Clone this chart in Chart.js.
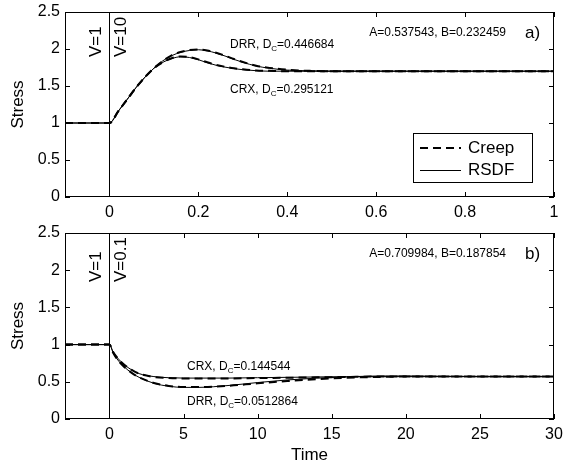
<!DOCTYPE html>
<html>
<head>
<meta charset="utf-8">
<script src="https://cdn.jsdelivr.net/npm/chart.js@4.4.0/dist/chart.umd.min.js"></script>
<style>
  body { margin: 0; background: #fff; }
  #wrap { position: relative; width: 576px; height: 474px; }
  canvas { position: absolute; left: 0; }
</style>
</head>
<body>
<div id="wrap">
  <canvas id="chartA" width="576" height="225" style="top:0"></canvas>
  <canvas id="chartB" width="576" height="249" style="top:225px"></canvas>
</div>
<script>
// panel a) : V 1 -> 10
const timeA = [-0.1, 0, 0.02, 0.04, 0.06, 0.08, 0.1, 0.12, 0.14, 0.16, 0.18, 0.2, 0.22, 0.24, 0.26, 0.28, 0.3, 0.33, 0.36, 0.4, 0.45, 0.5, 0.6, 0.8, 1.0]
const drrRsdfA = [1, 1, 1.16, 1.32, 1.48, 1.62, 1.74, 1.84, 1.91, 1.955, 1.98, 1.99, 1.975, 1.945, 1.905, 1.86, 1.82, 1.77, 1.74, 1.715, 1.705, 1.70, 1.70, 1.70, 1.70]
const drrCreepA = [1, 1, 1.16, 1.32, 1.48, 1.62, 1.74, 1.84, 1.915, 1.96, 1.985, 1.995, 1.98, 1.95, 1.91, 1.865, 1.825, 1.775, 1.745, 1.72, 1.705, 1.70, 1.70, 1.70, 1.70]
const crxRsdfA = [1, 1, 1.16, 1.32, 1.48, 1.62, 1.74, 1.82, 1.87, 1.895, 1.885, 1.855, 1.815, 1.78, 1.755, 1.735, 1.72, 1.707, 1.70, 1.70, 1.70, 1.70, 1.70, 1.70, 1.70]
const crxCreepA = [1, 1, 1.16, 1.32, 1.48, 1.62, 1.74, 1.82, 1.875, 1.90, 1.89, 1.86, 1.82, 1.785, 1.76, 1.74, 1.725, 1.71, 1.705, 1.70, 1.70, 1.70, 1.70, 1.70, 1.70]

// panel b) : V 1 -> 0.1
const timeB = [-3, 0, 0.25, 0.5, 1, 1.5, 2, 3, 4, 5, 6, 8, 10, 12, 14, 16, 18, 20, 25, 30]
const drrRsdfB = [1, 1, 0.89, 0.81, 0.70, 0.62, 0.56, 0.48, 0.44, 0.425, 0.425, 0.45, 0.49, 0.525, 0.55, 0.565, 0.575, 0.575, 0.57, 0.57]
const drrCreepB = [1, 1, 0.89, 0.81, 0.70, 0.62, 0.56, 0.485, 0.445, 0.43, 0.43, 0.445, 0.48, 0.51, 0.535, 0.555, 0.565, 0.57, 0.57, 0.57]
const crxRsdfB = [1, 1, 0.90, 0.83, 0.73, 0.66, 0.61, 0.57, 0.555, 0.55, 0.55, 0.55, 0.555, 0.56, 0.565, 0.57, 0.575, 0.575, 0.57, 0.57]
const crxCreepB = [1, 1, 0.90, 0.83, 0.73, 0.66, 0.61, 0.565, 0.55, 0.545, 0.545, 0.545, 0.55, 0.555, 0.56, 0.565, 0.57, 0.57, 0.57, 0.57]

const xTicksA = [0, 0.2, 0.4, 0.6, 0.8, 1]
const xTicksB = [0, 5, 10, 15, 20, 25, 30]
const yTicks = [0, 0.5, 1, 1.5, 2, 2.5]

const FONT = 'Liberation Sans, Arial, Helvetica, sans-serif'

function pts(xs, ys) {
  return xs.map((x, i) => ({ x: x, y: ys[i] }))
}

function dashed(data) {
  return { data: data, borderColor: '#000', borderWidth: 2, borderDash: [8, 5], pointRadius: 0, cubicInterpolationMode: 'monotone', fill: false }
}
function solid(data) {
  return { data: data, borderColor: '#000', borderWidth: 1, pointRadius: 0, cubicInterpolationMode: 'monotone', fill: false }
}

// text with a subscript "C"
function subText(ctx, pre, sub, post, x, y, size) {
  ctx.font = size + 'px ' + FONT
  ctx.fillText(pre, x, y)
  x += ctx.measureText(pre).width
  ctx.font = Math.round(size * 0.7) + 'px ' + FONT
  ctx.fillText(sub, x, y + 3)
  x += ctx.measureText(sub).width
  ctx.font = size + 'px ' + FONT
  ctx.fillText(post, x, y)
}

function vertText(ctx, txt, x, y, size) {
  ctx.save()
  ctx.translate(x, y)
  ctx.rotate(-Math.PI / 2)
  ctx.font = size + 'px ' + FONT
  ctx.textAlign = 'left'
  ctx.textBaseline = 'middle'
  ctx.fillText(txt, 0, 0)
  ctx.restore()
}

const decorPlugin = {
  id: 'decor',
  afterDatasetsDraw(chart, args, o) {
    const ctx = chart.ctx
    const a = chart.chartArea
    const sx = chart.scales.x, sy = chart.scales.y
    ctx.save()
    ctx.strokeStyle = '#000'
    ctx.fillStyle = '#000'
    ctx.lineWidth = 1
    ctx.setLineDash([])
    // frame
    ctx.strokeRect(a.left + 0.5, a.top + 0.5, a.right - a.left - 1, a.bottom - a.top - 1)
    // inward ticks on all four sides
    ctx.beginPath()
    sx.ticks.forEach(t => {
      const px = Math.round(sx.getPixelForValue(t.value)) + 0.5
      ctx.moveTo(px, a.bottom); ctx.lineTo(px, a.bottom - 5)
      ctx.moveTo(px, a.top); ctx.lineTo(px, a.top + 5)
    })
    sy.ticks.forEach(t => {
      const py = Math.round(sy.getPixelForValue(t.value)) + 0.5
      ctx.moveTo(a.left, py); ctx.lineTo(a.left + 5, py)
      ctx.moveTo(a.right, py); ctx.lineTo(a.right - 5, py)
    })
    // switch of velocity at t = 0
    const x0 = Math.round(sx.getPixelForValue(0)) + 0.5
    ctx.moveTo(x0, a.top); ctx.lineTo(x0, a.bottom)
    ctx.stroke()

    vertText(ctx, o.v1, x0 - 13, a.top + o.vBase, 17)
    vertText(ctx, o.v2, x0 + 12, a.top + o.vBase, 17)

    ctx.textAlign = 'left'
    ctx.textBaseline = 'alphabetic'
    o.labels.forEach(l => subText(ctx, l[0], 'C', l[1], l[2], l[3], 12))

    ctx.font = '12px ' + FONT
    ctx.textAlign = 'right'
    ctx.fillText(o.ab, 506, a.top + 24)
    ctx.font = '17px ' + FONT
    ctx.textAlign = 'left'
    ctx.fillText(o.tag, 525, a.top + 26)

    // y axis title
    ctx.save()
    ctx.translate(18, (a.top + a.bottom) / 2)
    ctx.rotate(-Math.PI / 2)
    ctx.font = '17px ' + FONT
    ctx.textAlign = 'center'
    ctx.textBaseline = 'middle'
    ctx.fillText('Stress', 0, 0)
    ctx.restore()

    if (o.legend) {
      const lx = 413, ly = 133
      ctx.fillStyle = '#fff'
      ctx.fillRect(lx, ly, 119, 49)
      ctx.strokeRect(lx + 0.5, ly + 0.5, 119, 49)
      ctx.beginPath()
      ctx.lineWidth = 2
      ctx.setLineDash([8, 5])
      ctx.moveTo(420, 148); ctx.lineTo(461, 148)
      ctx.stroke()
      ctx.beginPath()
      ctx.lineWidth = 1
      ctx.setLineDash([])
      ctx.moveTo(420, 170.5); ctx.lineTo(461, 170.5)
      ctx.stroke()
      ctx.fillStyle = '#000'
      ctx.font = '17px ' + FONT
      ctx.textBaseline = 'middle'
      ctx.fillText('Creep', 468, 148)
      ctx.fillText('RSDF', 468, 170)
    }
    if (o.xTitle) {
      ctx.font = '17px ' + FONT
      ctx.textAlign = 'center'
      ctx.textBaseline = 'middle'
      ctx.fillText('Time', (a.left + a.right) / 2, o.xTitle)
    }
    ctx.restore()
  }
}

function makeChart(id, time, series, xMin, xMax, xTicks, axisH, padTop, decor) {
  return new Chart(document.getElementById(id), {
    type: 'line',
    data: {
      datasets: [
        dashed(pts(time, series[0])),
        dashed(pts(time, series[1])),
        solid(pts(time, series[2])),
        solid(pts(time, series[3]))
      ]
    },
    options: {
      responsive: false,
      devicePixelRatio: 1,
      animation: false,
      layout: { padding: { left: 0, right: 22, top: padTop, bottom: 0 } },
      plugins: { legend: { display: false }, tooltip: { enabled: false }, decor: decor },
      scales: {
        x: {
          type: 'linear', min: xMin, max: xMax,
          border: { display: false },
          grid: { display: false, drawTicks: false },
          ticks: { color: '#000', font: { family: FONT, size: 16 }, padding: 6, maxRotation: 0, callback: v => String(v) },
          afterBuildTicks: s => { s.ticks = xTicks.map(v => ({ value: v })) },
          afterFit: s => { s.height = axisH; s.paddingLeft = 0; s.paddingRight = 0 }
        },
        y: {
          min: 0, max: 2.5,
          border: { display: false },
          grid: { display: false, drawTicks: false },
          ticks: { color: '#000', font: { family: FONT, size: 16 }, padding: 5, callback: v => String(v) },
          afterBuildTicks: s => { s.ticks = yTicks.map(v => ({ value: v })) },
          afterFit: s => { s.width = 65; s.paddingTop = 0; s.paddingBottom = 0 }
        }
      }
    },
    plugins: [decorPlugin]
  })
}

makeChart('chartA', timeA, [drrCreepA, crxCreepA, drrRsdfA, crxRsdfA], -0.1, 1, xTicksA, 28, 12, {
  v1: 'V=1', v2: 'V=10', vBase: 45,
  labels: [['DRR, D', '=0.446684', 230, 48], ['CRX, D', '=0.295121', 230, 93]],
  ab: 'A=0.537543, B=0.232459', tag: 'a)', legend: true
})

makeChart('chartB', timeB, [drrCreepB, crxCreepB, drrRsdfB, crxRsdfB], -3, 30, xTicksB, 55, 8, {
  v1: 'V=1', v2: 'V=0.1', vBase: 49,
  labels: [['CRX, D', '=0.144544', 187, 145], ['DRR, D', '=0.0512864', 187, 180]],
  ab: 'A=0.709984, B=0.187854', tag: 'b)', legend: false, xTitle: 230
})
</script>
</body>
</html>
